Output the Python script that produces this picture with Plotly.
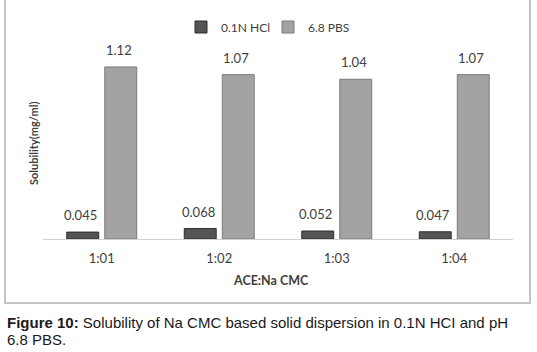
import plotly.graph_objects as go

categories = ["1:01", "1:02", "1:03", "1:04"]
hcl_values = [0.045, 0.068, 0.052, 0.047]
pbs_values = [1.12, 1.07, 1.04, 1.07]
hcl_labels = ["0.045", "0.068", "0.052", "0.047"]
pbs_labels = ["1.12", "1.07", "1.04", "1.07"]

W, H = 537, 352
L, R, T, B = 43, 24, 50, 113
pw = W - L - R
ph = H - T - B

def px(x):
    return (x - L) / pw

def py(y):
    return (H - B - y) / ph

chart_font = "Lato, Carlito, Calibri, sans-serif"
txt_col = "#404040"

fig = go.Figure()
fig.add_trace(go.Bar(
    x=categories, y=hcl_values, name="0.1N HCl",
    marker=dict(color="#555555", line=dict(color="#2e2e2e", width=1)),
))
fig.add_trace(go.Bar(
    x=categories, y=pbs_values, name="6.8 PBS",
    marker=dict(color="#a3a3a3", line=dict(color="#7a7a7a", width=1)),
))

# value labels above each bar (offset to the bar's slot in the group)
for vals, labs, shift in ((hcl_values, hcl_labels, -19), (pbs_values, pbs_labels, 19)):
    for c, v, t in zip(categories, vals, labs):
        fig.add_annotation(x=c, y=v, text=t, showarrow=False, xshift=shift - 2,
                           yanchor="bottom", yshift=7,
                           font=dict(size=13, color=txt_col, family=chart_font))

fig.update_layout(
    width=W, height=H,
    margin=dict(l=L, r=R, t=T, b=B),
    paper_bgcolor="white", plot_bgcolor="white",
    barmode="group", bargap=0.353, bargroupgap=0.16,
    font=dict(family=chart_font, size=13, color=txt_col),
    showlegend=True,
    legend=dict(orientation="h", x=px(268), xanchor="center", y=py(27), yanchor="middle",
                font=dict(size=12, color=txt_col), itemwidth=30,
                entrywidth=42, entrywidthmode="pixels", bgcolor="rgba(0,0,0,0)"),
    xaxis=dict(showline=True, linecolor="#d0d0d0", linewidth=1, ticks="outside",
               ticklen=7, tickcolor="rgba(0,0,0,0)",
               tickfont=dict(size=13, color=txt_col), showgrid=False),
    yaxis=dict(range=[0, ph / 153.6], visible=False, showgrid=False, zeroline=False),
)

fig.add_annotation(text="<b>Solubility(mg/ml)</b>", xref="paper", yref="paper",
                   x=px(33), y=py(143), xanchor="center", yanchor="middle",
                   textangle=-90, showarrow=False,
                   font=dict(size=11, color=txt_col, family=chart_font))
fig.add_annotation(text="<b>ACE:Na CMC</b>", xref="paper", yref="paper",
                   x=px(271), y=py(280), xanchor="center", yanchor="middle", showarrow=False,
                   font=dict(size=12.5, color=txt_col, family=chart_font))

# chart frame (top edge lies above the visible picture, as in the reference)
fig.add_shape(type="rect", xref="paper", yref="paper",
              x0=px(5), x1=px(530), y0=py(303), y1=py(-6),
              line=dict(color="#c4c4c4", width=2), fillcolor="rgba(0,0,0,0)", layer="below")

cap_font = "Liberation Sans, Arial, sans-serif"
fig.add_annotation(text="<b>Figure 10:</b> Solubility of Na CMC based solid dispersion in 0.1N HCI and pH",
                   xref="paper", yref="paper", x=px(5), y=py(322), xanchor="left", yanchor="middle",
                   showarrow=False, font=dict(size=15, color="#1a1a1a", family=cap_font))
fig.add_annotation(text="6.8 PBS.",
                   xref="paper", yref="paper", x=px(5), y=py(339), xanchor="left", yanchor="middle",
                   showarrow=False, font=dict(size=15, color="#1a1a1a", family=cap_font))

fig.write_html("out.html", config={"displayModeBar": False},
               post_script="document.body.style.margin='0';")
